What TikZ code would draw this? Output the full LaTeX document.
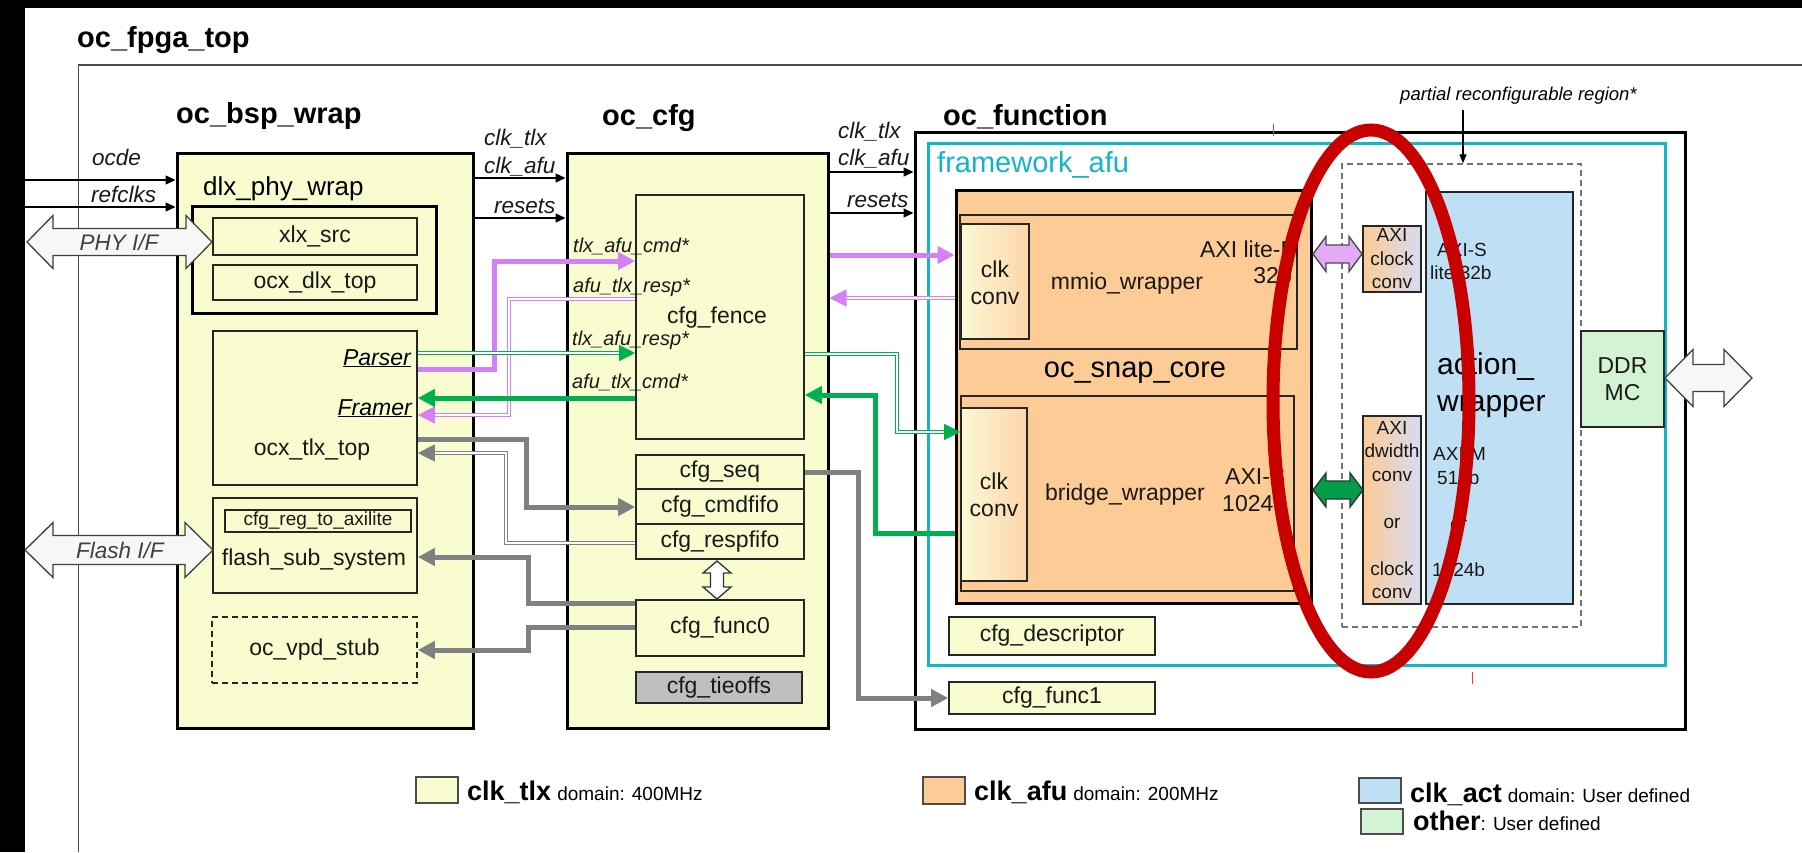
\documentclass[tikz,border=0pt]{standalone}
\usepackage{fontspec}
\setmainfont{Liberation Sans}
\usetikzlibrary{arrows.meta,fit}
\definecolor{yel}{HTML}{F9FCCE}
\definecolor{ora}{HTML}{FDCB95}
\definecolor{blu}{HTML}{BFDFF5}
\definecolor{grn}{HTML}{D3F3D3}
\definecolor{cya}{HTML}{14B4CC}
\definecolor{mag}{HTML}{D580F8}
\definecolor{magl}{HTML}{E4AAF6}
\definecolor{gre}{HTML}{00B050}
\definecolor{gry}{HTML}{808080}
\definecolor{redo}{HTML}{C80000}
\definecolor{tie}{HTML}{BFBFBF}
\definecolor{lav}{HTML}{D6DCF2}
\definecolor{paley}{HTML}{FBF9D4}
% box: name, x1, y1, x2, y2, box style, text style, text
\newcommand\bx[8]{\node[fit={(#2,#3)(#4,#5)},inner sep=0pt,#6] (#1) {};
  \node[inner sep=0pt, align=center, #7] (#1t) at (#1.center) {#8};}
\newcommand\dblH[7]{\draw[#1] (#2,#4) -- (#2+#7,#4-#5) -- (#2+#7,#4-#6) -- (#3-#7,#4-#6) -- (#3-#7,#4-#5) -- (#3,#4) -- (#3-#7,#4+#5) -- (#3-#7,#4+#6) -- (#2+#7,#4+#6) -- (#2+#7,#4+#5) -- cycle;}
\newcommand\dblV[7]{\draw[#1] (#4,#2) -- (#4+#5,#2+#7) -- (#4+#6,#2+#7) -- (#4+#6,#3-#7) -- (#4+#5,#3-#7) -- (#4,#3) -- (#4-#5,#3-#7) -- (#4-#6,#3-#7) -- (#4-#6,#2+#7) -- (#4-#5,#2+#7) -- cycle;}
\newcommand\lgb{\fontsize{27}{30}\selectfont\bfseries}
\newcommand\lgs{\fontsize{19}{22}\selectfont\mdseries}
\begin{document}
\begin{tikzpicture}[x=1pt,y=-1pt,
  big/.style={draw=black, line width=3pt},
  thin/.style={draw=black!85, line width=1.6pt},
  txt/.style={font=\fontsize{23}{27}\selectfont, text=black!90},
  lab/.style={font=\fontsize{22.5}{26}\selectfont\itshape, text=black!90, inner sep=0pt},
  slab/.style={font=\fontsize{20}{24}\selectfont\itshape, text=black!90, inner sep=0pt},
  sm/.style={font=\fontsize{19}{23.5}\selectfont, text=black!90},
  ttl/.style={font=\fontsize{29}{33}\selectfont\bfseries, inner sep=0pt},
  blkarr/.style={draw=black, line width=1.4pt, -{Triangle[length=10pt,width=9pt]}},
  magthick/.style={draw=mag, line width=5pt, -{Triangle[length=17pt,width=17pt]}},
  magdbl/.style={draw=mag, double=white, double distance=2pt, line width=1.1pt, -{Triangle[length=17pt,width=17pt]}},
  grnthick/.style={draw=gre, line width=5pt, -{Triangle[length=17pt,width=17pt]}},
  grndbl/.style={draw=gre, double=white, double distance=2.4pt, line width=1.1pt, -{Triangle[length=16pt,width=16pt]}},
  gythick/.style={draw=gry, line width=5pt, -{Triangle[length=17pt,width=17pt]}},
  gydbl/.style={draw=gry, double=white, double distance=2pt, line width=1.1pt, -{Triangle[length=17pt,width=17pt]}},
  wharrow/.style={fill=black!3, draw=black!75, line width=1.3pt}
]
\useasboundingbox (0,0) rectangle (1802,852);
\fill[white] (0,0) rectangle (1802,852);
\fill[black] (0,0) rectangle (1802,8);
\fill[black] (0,0) rectangle (25,852);
\draw[black!70, line width=1.5pt] (78.5,852) -- (78.5,65) -- (1802,65);

% titles
\node[ttl, anchor=base west] (tfpga) at (77,47) {oc\_fpga\_top};
\node[ttl, anchor=base west] (tbsp) at (176,123) {oc\_bsp\_wrap};
\node[ttl, anchor=base west] (tcfg) at (602,125) {oc\_cfg};
\node[ttl, anchor=base west] (tfun) at (943,125) {oc\_function};

% main blocks
\bx{bsp}{177}{153}{473}{728}{big, fill=yel}{}{}
\bx{cfg}{567}{153}{828}{728}{big, fill=yel}{}{}
\bx{fun}{915}{132}{1685}{729}{big, fill=white}{}{}
\bx{fw}{928}{143}{1665}{665}{draw=cya, line width=3pt}{}{}
\bx{snap}{956}{190}{1311}{603}{big, fill=ora}{}{}
\bx{prr}{1342}{164}{1581}{627}{draw=black!55, line width=1.3pt, dash pattern=on 6pt off 4pt}{}{}

% oc_bsp_wrap content
\node[font=\fontsize{26}{30}\selectfont, anchor=base west, inner sep=0pt] (dlxt) at (203,195) {dlx\_phy\_wrap};
\bx{dlx}{192}{206}{436}{313}{draw=black, line width=3pt, fill=yel}{}{}
\bx{xlx}{213}{218}{417}{255}{thin, fill=yel}{txt}{xlx\_src}
\bx{dlxtop}{213}{265}{417}{300}{thin, fill=yel}{txt}{ocx\_dlx\_top}
\bx{tlx}{213}{331}{417}{485}{thin, fill=yel}{}{}
\node[txt] (tlxtx) at (312,450) {ocx\_tlx\_top};
\node[font=\fontsize{23}{27}\selectfont\itshape, anchor=base east, inner sep=0pt] (parser) at (411,365) {\underline{Parser}};
\node[font=\fontsize{23}{27}\selectfont\itshape, anchor=base east, inner sep=0pt] (framer) at (412,415) {\underline{Framer}};
\bx{flash}{213}{498}{417}{593}{thin, fill=yel}{}{}
\bx{axil}{225}{510}{411}{532}{thin}{sm}{cfg\_reg\_to\_axilite}
\node[txt] (flashtx) at (314,560) {flash\_sub\_system};
\bx{vpd}{212}{617}{417}{683}{draw=black!85, line width=1.6pt, dash pattern=on 6pt off 4pt}{txt}{oc\_vpd\_stub}

% oc_cfg content
\bx{fence}{636}{195}{804}{439}{thin, fill=yel}{}{}
\node[txt] (fencetx) at (717,318) {cfg\_fence};
\bx{seq}{636}{455}{804}{489}{thin, fill=yel}{txt}{cfg\_seq}
\bx{cmdf}{636}{489}{804}{524}{thin, fill=yel}{txt}{cfg\_cmdfifo}
\bx{respf}{636}{524}{804}{559}{thin, fill=yel}{txt}{cfg\_respfifo}
\bx{func0}{636}{600}{804}{656}{thin, fill=yel}{txt}{cfg\_func0}
\bx{tie}{636}{672}{802}{703}{thin, fill=tie}{txt}{cfg\_tieoffs}
\node[slab, anchor=base west] (l1) at (573,252) {tlx\_afu\_cmd*};
\node[slab, anchor=base west] (l2) at (573,292) {afu\_tlx\_resp*};
\node[slab, anchor=base west] (l3) at (572,345) {tlx\_afu\_resp*};
\node[slab, anchor=base west] (l4) at (572,388) {afu\_tlx\_cmd*};

% oc_function content
\node[font=\fontsize{29}{33}\selectfont, text=cya, anchor=base west, inner sep=0pt] (fwtx) at (937,172) {framework\_afu};
\bx{mmio}{960}{215}{1297}{349}{thin, fill=ora}{}{}
\bx{clk1}{961}{224}{1029}{339}{thin, left color=paley, right color=ora!80!white}{}{}
\node[txt, align=center] (clk1tx) at (995,283) {clk\\conv};
\node[txt] (mmiotx) at (1127,284) {mmio\_wrapper};
\node[txt, anchor=base east, inner sep=0pt] (axilm) at (1300,257) {AXI lite-M};
\node[txt, anchor=base east, inner sep=0pt] (b32) at (1292,283) {32b};
\node[font=\fontsize{29}{33}\selectfont] (snaptx) at (1135,373) {oc\_snap\_core};
\bx{brw}{961}{396}{1294}{591}{thin, fill=ora}{}{}
\bx{clk2}{961}{408}{1027}{581}{thin, left color=paley, right color=ora!80!white}{}{}
\node[txt, align=center] (clk2tx) at (994,495) {clk\\conv};
\node[txt] (brwtx) at (1125,495) {bridge\_wrapper};
\node[txt, anchor=base west, inner sep=0pt] (axis) at (1225,484) {AXI-S};
\node[txt, anchor=base west, inner sep=0pt] (b1024) at (1222,511) {1024b};
\bx{desc}{949}{617}{1155}{655}{thin, fill=yel}{txt}{cfg\_descriptor}
\bx{func1}{949}{682}{1155}{714}{thin, fill=yel}{txt}{cfg\_func1}

% partial reconfigurable region
\node[font=\fontsize{18.5}{22}\selectfont\itshape, anchor=base west, inner sep=0pt] (prrtx) at (1400,100) {partial reconfigurable region*};
\coordinate (prrA) at (1463,110);
\draw[draw=black, line width=1.2pt, -{Triangle[length=9pt,width=7pt]}] (prrA) -- (prrA |- prr.north);
\bx{axcc}{1363}{226}{1421}{292}{thin, left color=ora, right color=lav}{sm}{AXI\\clock\\conv}
\bx{axdw}{1363}{416}{1421}{604}{thin, left color=ora, right color=lav}{sm}{AXI\\dwidth\\conv\\[23.5pt]or\\[23.5pt]clock\\conv}
\bx{act}{1426}{192}{1573}{604}{thin, fill=blu}{}{}
\node[sm, anchor=base west, inner sep=0pt] (acta) at (1437,256) {AXI-S};
\node[sm, anchor=base west, inner sep=0pt] (actb) at (1430,279) {lite 32b};
\node[font=\fontsize{30}{34}\selectfont, anchor=base west, inner sep=0pt] (actc) at (1437,374) {action\_};
\node[font=\fontsize{30}{34}\selectfont, anchor=base west, inner sep=0pt] (actd) at (1437,411) {wrapper};
\node[sm, anchor=base west, inner sep=0pt] (acte) at (1433,460) {AXI-M};
\node[sm, anchor=base west, inner sep=0pt] (actf) at (1437,484) {512b};
\node[sm, anchor=base west, inner sep=0pt] (actg) at (1450,530) {or};
\node[sm, anchor=base west, inner sep=0pt] (acth) at (1432,576) {1024b};
\bx{ddr}{1581}{331}{1664}{427}{thin, fill=grn}{txt}{DDR\\MC}

% black signal arrows
\coordinate (ocdeA) at (25,180);
\coordinate (refA) at (25,207);
\node[lab, anchor=base west] (ocdel) at (92,165) {ocde};
\node[lab, anchor=base west] (refl) at (91,202) {refclks};
\draw[blkarr] (ocdeA) -- (ocdeA -| bsp.west);
\draw[blkarr] (refA) -- (refA -| bsp.west);
\node[lab, anchor=base west] (c1) at (484,145) {clk\_tlx};
\node[lab, anchor=base west] (c2) at (484,173) {clk\_afu};
\node[lab, anchor=base west] (r1) at (494,213) {resets};
\draw[blkarr] (bsp.east |- 0,178) -- (cfg.west |- 0,178);
\draw[blkarr] (bsp.east |- 0,218) -- (cfg.west |- 0,218);
\node[lab, anchor=base west] (c3) at (838,138) {clk\_tlx};
\node[lab, anchor=base west] (c4) at (838,165) {clk\_afu};
\node[lab, anchor=base west] (r2) at (847,207) {resets};
\draw[blkarr] (cfg.east |- 0,172) -- (fun.west |- 0,172);
\draw[blkarr] (cfg.east |- 0,213) -- (fun.west |- 0,213);

% bsp <-> cfg wires
\draw[magthick] (tlx.east |- 0,369) -| (494,261) -- (fence.west |- 0,261);
\draw[magdbl] (fence.west |- 0,299) -| (509,415) -- (tlx.east |- 0,415);
\draw[grndbl] (tlx.east |- 0,353) -- (fence.west |- 0,353);
\draw[grnthick] (fence.west |- 0,398) -- (tlx.east |- 0,398);
\draw[gythick] (tlx.east |- 0,439) -| (526,507) -- (cmdf.west |- 0,507);
\draw[gydbl] (respf.west |- 0,543) -| (506,453) -- (tlx.east |- 0,453);
\draw[gythick] (func0.west |- 0,603) -| (528,557) -- (flash.east |- 0,557);
\draw[gythick] (func0.west |- 0,627) -| (528,650) -- (vpd.east |- 0,650);

% cfg <-> function wires
\draw[magthick] (cfg.east |- 0,255) -- (snap.west |- 0,255);
\draw[magdbl] (snap.west |- 0,298) -- (cfg.east |- 0,298);
\draw[grndbl] (fence.east |- 0,354) -| (897,432) -- (clk2.west |- 0,432);
\draw[grnthick] (snap.west |- 0,533) -| (875,395) -- (fence.east |- 0,395);
\draw[gythick] (seq.east |- 0,472) -| (858,698) -- (func1.west |- 0,698);

% block arrows
\dblH{wharrow}{27}{212}{242}{26.5}{13.5}{26}
\node[lab, text=black!75] (phyl) at (119,242) {PHY I/F};
\dblH{wharrow}{25}{213}{550}{27.5}{14.5}{28}
\node[lab, text=black!75] (flashl) at (120,550) {Flash I/F};
\dblH{wharrow}{1665}{1752}{378}{28.5}{13.5}{28}
\dblV{fill=white, draw=black!80, line width=1.3pt}{561}{599}{717}{14}{6.5}{12}
\dblH{fill=magl, draw=black!70, line width=1.4pt}{1313}{1362}{254}{17.5}{9}{13}
\dblH{fill=gre!90!black, draw=black!80, line width=1.4pt}{1313}{1363}{490}{17}{9}{13}

% red highlight
\draw[redo, line width=13pt] (1371,401) ellipse [x radius=98pt, y radius=271pt];
\draw[red!80, line width=1pt] (1273,124) -- (1273,136);
\draw[red!80, line width=1pt] (1472,672) -- (1472,684);

% legend
\bx{lgy}{416}{777}{458}{803}{draw=black!70, line width=2pt, fill=yel}{}{}
\node[anchor=base west, inner sep=0pt] (lgytx) at (467,800) {{\lgb clk\_tlx}\hspace{6pt}{\lgs domain: 400MHz}};
\bx{lgo}{923}{777}{965}{804}{draw=black!70, line width=2pt, fill=ora}{}{}
\node[anchor=base west, inner sep=0pt] (lgotx) at (974,800) {{\lgb clk\_afu}\hspace{6pt}{\lgs domain: 200MHz}};
\bx{lgb}{1359}{778}{1401}{803}{draw=black!70, line width=2pt, fill=blu}{}{}
\node[anchor=base west, inner sep=0pt] (lgbtx) at (1410,802) {{\lgb clk\_act}\hspace{6pt}{\lgs domain: User defined}};
\bx{lgg}{1361}{809}{1403}{834}{draw=black!70, line width=2pt, fill=grn}{}{}
\node[anchor=base west, inner sep=0pt] (lggtx) at (1413,830) {{\lgb other}{\lgs: User defined}};
\end{tikzpicture}
\end{document}
